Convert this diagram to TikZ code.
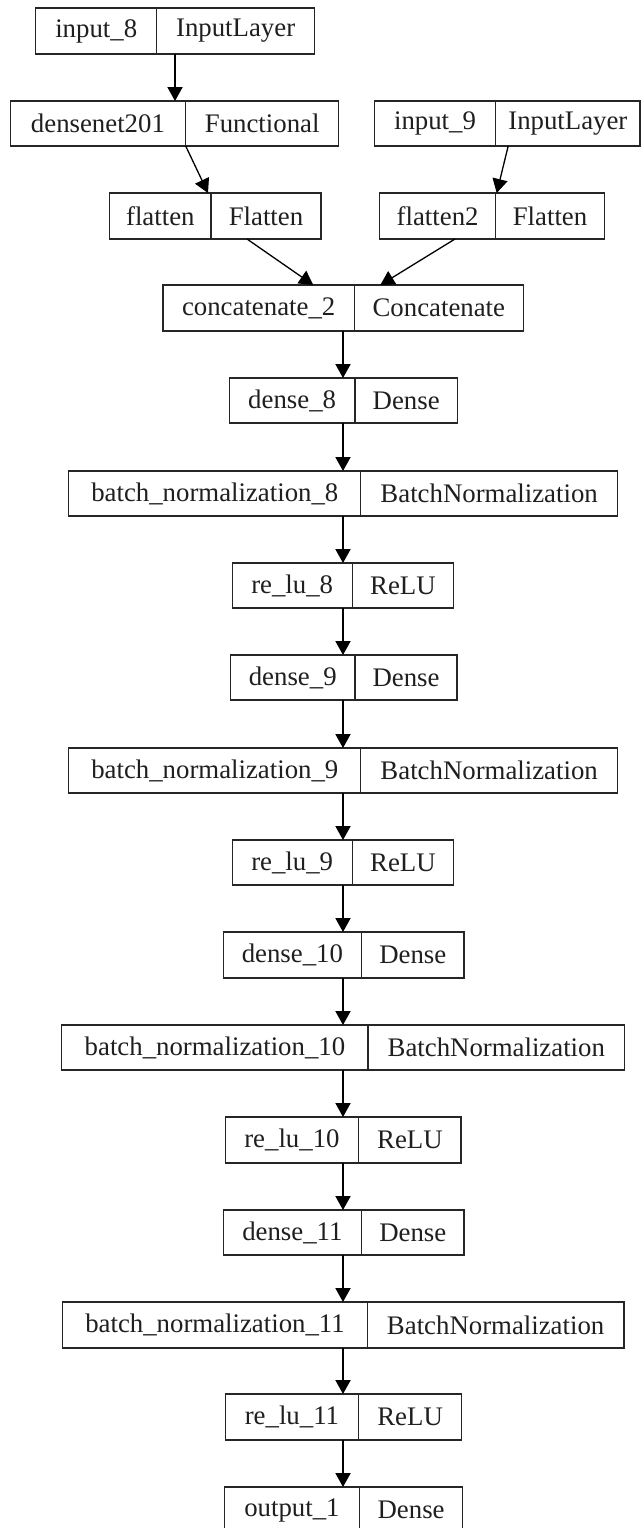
\documentclass[tikz,border=0pt]{standalone}
\usepackage{fontspec}
\setmainfont{Liberation Serif}
\usetikzlibrary{arrows.meta,calc}
\tikzset{
  cell/.style={draw=black!85, line width=0.65pt, inner sep=0pt, outer sep=0pt, anchor=north west,
    font=\fontsize{13.4}{16}\selectfont, text=black!88},
  arr/.style={draw=black, line width=0.65pt, -{Triangle[length=7pt,width=7.6pt]}}
}
\newcommand\lay[8]{%
  \node[cell, minimum width={(#3-#2)*0.5pt}, minimum height={(#6-#5)*0.5pt}] (#1-l) at (#2,#5) {#7};
  \node[cell, minimum width={(#4-#3)*0.5pt}, minimum height={(#6-#5)*0.5pt}] (#1-r) at (#3,#5) {#8};
}
\begin{document}
\begin{tikzpicture}[x=0.5pt,y=-0.5pt]
\path[use as bounding box, clip] (0,0) rectangle (642,1528);
\fill[white] (0,0) rectangle (642,1528);
\coordinate (ax) at (343,0);
\coordinate (ax1) at (175,0);
\lay{in8}{35.6}{156.8}{314.5}{8}{54}{input\_8}{InputLayer}
\lay{dn}{10.2}{185.7}{338.7}{101}{146}{densenet201}{Functional}
\lay{in9}{374.3}{495.7}{640}{101}{146}{input\_9}{InputLayer}
\lay{fl}{109.7}{211}{321}{193}{239}{flatten}{Flatten}
\lay{fltwo}{379.6}{495.7}{604.4}{193}{239}{flatten2}{Flatten}
\lay{cc}{163}{354.3}{523.3}{285}{331}{concatenate\_2}{Concatenate}
\lay{d8}{229.3}{355}{457.4}{378}{423}{dense\_8}{Dense}
\lay{bn8}{68.8}{360.8}{617.5}{471}{516}{batch\_normalization\_8}{BatchNormalization}
\lay{r8}{232.2}{352.2}{453.7}{563}{608}{re\_lu\_8}{ReLU}
\lay{d9}{230.5}{355}{457}{655}{700}{dense\_9}{Dense}
\lay{bn9}{68.8}{360.8}{617.5}{748}{793}{batch\_normalization\_9}{BatchNormalization}
\lay{r9}{232.2}{352.2}{453.7}{840}{885}{re\_lu\_9}{ReLU}
\lay{d10}{223.2}{361.6}{464}{932}{978}{dense\_10}{Dense}
\lay{bn10}{61.8}{368.1}{624.5}{1025}{1070}{batch\_normalization\_10}{BatchNormalization}
\lay{r10}{225.2}{358.7}{461.1}{1117}{1163}{re\_lu\_10}{ReLU}
\lay{d11}{223.2}{361.6}{464}{1210}{1255}{dense\_11}{Dense}
\lay{bn11}{62.7}{367.3}{624}{1302}{1348}{batch\_normalization\_11}{BatchNormalization}
\lay{r11}{225.2}{358.7}{461.5}{1394}{1440}{re\_lu\_11}{ReLU}
\lay{out}{224.4}{359.5}{462.7}{1487}{1533}{output\_1}{Dense}
% connectors
\draw[arr] (in8-l.south -| ax1) -- (dn-l.north -| ax1);
\draw[arr] (dn-l.south east) -- ($(fl-l.north east)+(-3,0)$);
\draw[arr] ($(in9-l.south east)+(12.5,0)$) -- ($(fltwo-l.north east)+(1,0)$);
\draw[arr] ($(fl-l.south east)+(36,0)$) -- ($(cc-l.north east)+(-41,0)$);
\draw[arr] ($(fltwo-l.south east)+(-40.7,0)$) -- ($(cc-l.north east)+(26,0)$);
\draw[arr] (cc-l.south -| ax) -- (d8-l.north -| ax);
\draw[arr] (d8-l.south -| ax) -- (bn8-l.north -| ax);
\draw[arr] (bn8-l.south -| ax) -- (r8-l.north -| ax);
\draw[arr] (r8-l.south -| ax) -- (d9-l.north -| ax);
\draw[arr] (d9-l.south -| ax) -- (bn9-l.north -| ax);
\draw[arr] (bn9-l.south -| ax) -- (r9-l.north -| ax);
\draw[arr] (r9-l.south -| ax) -- (d10-l.north -| ax);
\draw[arr] (d10-l.south -| ax) -- (bn10-l.north -| ax);
\draw[arr] (bn10-l.south -| ax) -- (r10-l.north -| ax);
\draw[arr] (r10-l.south -| ax) -- (d11-l.north -| ax);
\draw[arr] (d11-l.south -| ax) -- (bn11-l.north -| ax);
\draw[arr] (bn11-l.south -| ax) -- (r11-l.north -| ax);
\draw[arr] (r11-l.south -| ax) -- (out-l.north -| ax);
\end{tikzpicture}
\end{document}
